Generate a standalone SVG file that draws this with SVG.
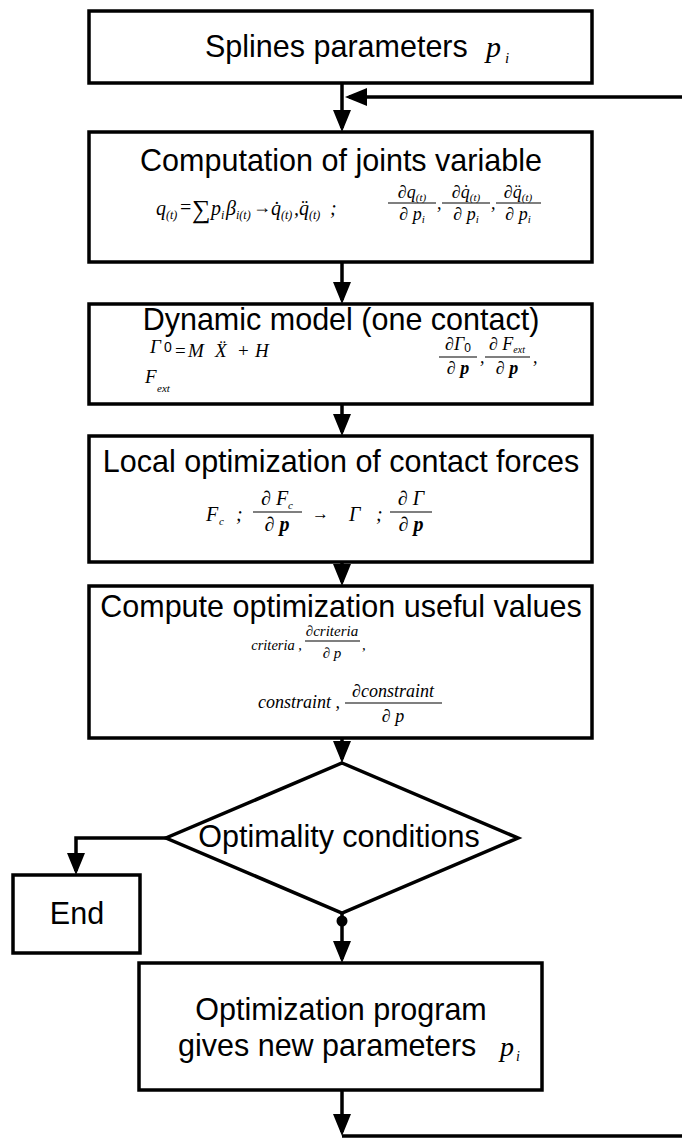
<svg xmlns="http://www.w3.org/2000/svg" width="682" height="1138" viewBox="0 0 682 1138">
<style>
.box{fill:#fff;stroke:#000;stroke-width:3.5}
.ttl{font-family:"Liberation Sans",Arial,sans-serif;font-size:30.5px;fill:#000}
.mi{font-family:"Liberation Serif","Times New Roman",serif;font-style:italic;fill:#000}
.up{font-style:normal}
.sans{font-family:"Liberation Sans",Arial,sans-serif;font-style:normal}
.bar{stroke:#000;stroke-width:1.2}
.conn{fill:none;stroke:#000;stroke-width:3.5}
</style>
<defs>
<marker id="ah" markerUnits="userSpaceOnUse" markerWidth="22" markerHeight="18" refX="18" refY="9" orient="auto">
<path d="M0,0 L22,9 L0,18 z" fill="#000"/>
</marker>
</defs>
<rect width="682" height="1138" fill="#fff"/>

<g id="connectors">
<path class="conn" d="M342,83 V128" marker-end="url(#ah)"/>
<path class="conn" d="M682,97 H349" marker-end="url(#ah)"/>
<path class="conn" d="M342,262 V300" marker-end="url(#ah)"/>
<path class="conn" d="M342,404 V432" marker-end="url(#ah)"/>
<path class="conn" d="M342,562 V582" marker-end="url(#ah)"/>
<path class="conn" d="M342,738 V759" marker-end="url(#ah)"/>
<path class="conn" d="M166,838 H76 V871" marker-end="url(#ah)"/>
<path class="conn" d="M342,913 V959" marker-end="url(#ah)"/>
<circle cx="342" cy="921" r="5.5" fill="#000"/>
<path class="conn" d="M342,1090 V1132" marker-end="url(#ah)"/>
<path class="conn" d="M342,1136 H682"/>
</g>

<g id="n1">
<rect class="box" x="89" y="11" width="503" height="72"/>
<text class="ttl" x="205" y="57">Splines parameters</text>
<text class="mi" font-size="30"><tspan x="486" y="57">p</tspan><tspan x="505" y="63" font-size="15">i</tspan></text>
</g>

<g id="n2">
<rect class="box" x="89" y="132" width="503" height="130"/>
<text class="ttl" x="341" y="171" text-anchor="middle">Computation of joints variable</text>
<text class="mi" font-size="20">
<tspan x="156" y="215">q</tspan><tspan x="166" y="219" font-size="12">(t)</tspan>
<tspan x="180" y="214" class="up">=</tspan>
<tspan x="192" y="218" font-size="26" class="up">∑</tspan>
<tspan x="211" y="215">p</tspan><tspan x="221" y="219" font-size="12">i</tspan>
<tspan x="226" y="215">β</tspan><tspan x="236" y="219" font-size="12">i(t)</tspan>
<tspan x="253" y="213" font-size="18" class="up">→</tspan>
<tspan x="271" y="215">q̇</tspan><tspan x="281" y="219" font-size="12">(t)</tspan>
<tspan x="294" y="215">,</tspan>
<tspan x="299" y="215">q̈</tspan><tspan x="309" y="219" font-size="12">(t)</tspan>
<tspan x="330" y="215">;</tspan>
</text>
<text class="mi" font-size="18" x="412" y="198" text-anchor="middle">∂q<tspan font-size="11" dy="3">(t)</tspan></text>
<line class="bar" x1="388" y1="203" x2="436" y2="203"/>
<text class="mi" font-size="18" x="412" y="220" text-anchor="middle">∂ p<tspan font-size="11" dy="3">i</tspan></text>
<text class="mi" font-size="18" x="437" y="209">,</text>
<text class="mi" font-size="18" x="466" y="198" text-anchor="middle">∂q̇<tspan font-size="11" dy="3">(t)</tspan></text>
<line class="bar" x1="442" y1="203" x2="490" y2="203"/>
<text class="mi" font-size="18" x="466" y="220" text-anchor="middle">∂ p<tspan font-size="11" dy="3">i</tspan></text>
<text class="mi" font-size="18" x="491" y="209">,</text>
<text class="mi" font-size="18" x="518" y="198" text-anchor="middle">∂q̈<tspan font-size="11" dy="3">(t)</tspan></text>
<line class="bar" x1="496" y1="203" x2="541" y2="203"/>
<text class="mi" font-size="18" x="518" y="220" text-anchor="middle">∂ p<tspan font-size="11" dy="3">i</tspan></text>
</g>

<g id="n3">
<rect class="box" x="89" y="304" width="503" height="100"/>
<text class="ttl" x="341" y="330" text-anchor="middle">Dynamic model (one contact)</text>
<text class="mi" font-size="19">
<tspan x="150" y="353">Γ</tspan>
<tspan x="164" y="352" font-size="14" class="sans">0</tspan>
<tspan x="175" y="357" class="up">=</tspan>
<tspan x="188" y="357">M</tspan>
<tspan x="215" y="357">Ẍ</tspan>
<tspan x="238" y="357" class="up">+</tspan>
<tspan x="255" y="357">H</tspan>
<tspan x="145" y="383">F</tspan><tspan x="157" y="392" font-size="11">ext</tspan>
</text>
<text class="mi" font-size="18" x="458" y="350" text-anchor="middle">∂Γ<tspan font-size="12" dy="2" class="sans">0</tspan></text>
<line class="bar" x1="439" y1="357" x2="477" y2="357"/>
<text class="mi" font-size="18" x="458" y="374" text-anchor="middle">∂ <tspan font-weight="bold">p</tspan></text>
<text class="mi" font-size="18" x="480" y="363">,</text>
<text class="mi" font-size="18" x="507" y="350" text-anchor="middle">∂ F<tspan font-size="10" dy="3">ext</tspan></text>
<line class="bar" x1="485" y1="357" x2="530" y2="357"/>
<text class="mi" font-size="18" x="507" y="374" text-anchor="middle">∂ <tspan font-weight="bold">p</tspan></text>
<text class="mi" font-size="18" x="533" y="363">,</text>
</g>

<g id="n4">
<rect class="box" x="89" y="436" width="503" height="126"/>
<text class="ttl" x="341" y="472" text-anchor="middle">Local optimization of contact forces</text>
<text class="mi" font-size="20">
<tspan x="206" y="521">F</tspan><tspan x="219" y="525" font-size="11">c</tspan>
<tspan x="236" y="521">;</tspan>
<tspan x="312" y="519" font-size="17" class="up">→</tspan>
<tspan x="349" y="521">Γ</tspan>
<tspan x="376" y="521">;</tspan>
</text>
<text class="mi" font-size="20" x="277" y="505" text-anchor="middle">∂ F<tspan font-size="11" dy="4">c</tspan></text>
<line class="bar" x1="253" y1="512" x2="302" y2="512"/>
<text class="mi" font-size="20" x="277" y="531" text-anchor="middle">∂ <tspan font-weight="bold">p</tspan></text>
<text class="mi" font-size="20" x="411" y="505" text-anchor="middle">∂ Γ</text>
<line class="bar" x1="390" y1="512" x2="432" y2="512"/>
<text class="mi" font-size="20" x="411" y="531" text-anchor="middle">∂ <tspan font-weight="bold">p</tspan></text>
</g>

<g id="n5">
<rect class="box" x="89" y="586" width="503" height="152"/>
<text class="ttl" x="341" y="617" text-anchor="middle">Compute optimization useful values</text>
<text class="mi" font-size="14.5" x="302" y="650" text-anchor="end">criteria ,</text>
<text class="mi" font-size="15" x="332" y="636" text-anchor="middle">∂criteria</text>
<line class="bar" x1="305" y1="641" x2="360" y2="641"/>
<text class="mi" font-size="15" x="332" y="658" text-anchor="middle">∂ p</text>
<text class="mi" font-size="15" x="362" y="650">,</text>
<text class="mi" font-size="18" x="340" y="708" text-anchor="end">constraint ,</text>
<text class="mi" font-size="18" x="393" y="697" text-anchor="middle">∂constraint</text>
<line class="bar" x1="345" y1="703" x2="442" y2="703"/>
<text class="mi" font-size="18" x="393" y="722" text-anchor="middle">∂ p</text>
</g>

<g id="n6">
<polygon class="box" points="342,763 518,838 342,913 166,838"/>
<text class="ttl" x="339" y="847" text-anchor="middle">Optimality conditions</text>
</g>

<g id="n7">
<rect class="box" x="13" y="875" width="127" height="78"/>
<text class="ttl" x="77" y="924" text-anchor="middle" font-size="29">End</text>
</g>

<g id="n8">
<rect class="box" x="139" y="963" width="403" height="127"/>
<text class="ttl" x="341" y="1020" text-anchor="middle">Optimization program</text>
<text class="ttl" x="178" y="1056">gives new parameters</text>
<text class="mi" font-size="28"><tspan x="500" y="1056">p</tspan><tspan x="516" y="1061" font-size="14">i</tspan></text>
</g>
</svg>
